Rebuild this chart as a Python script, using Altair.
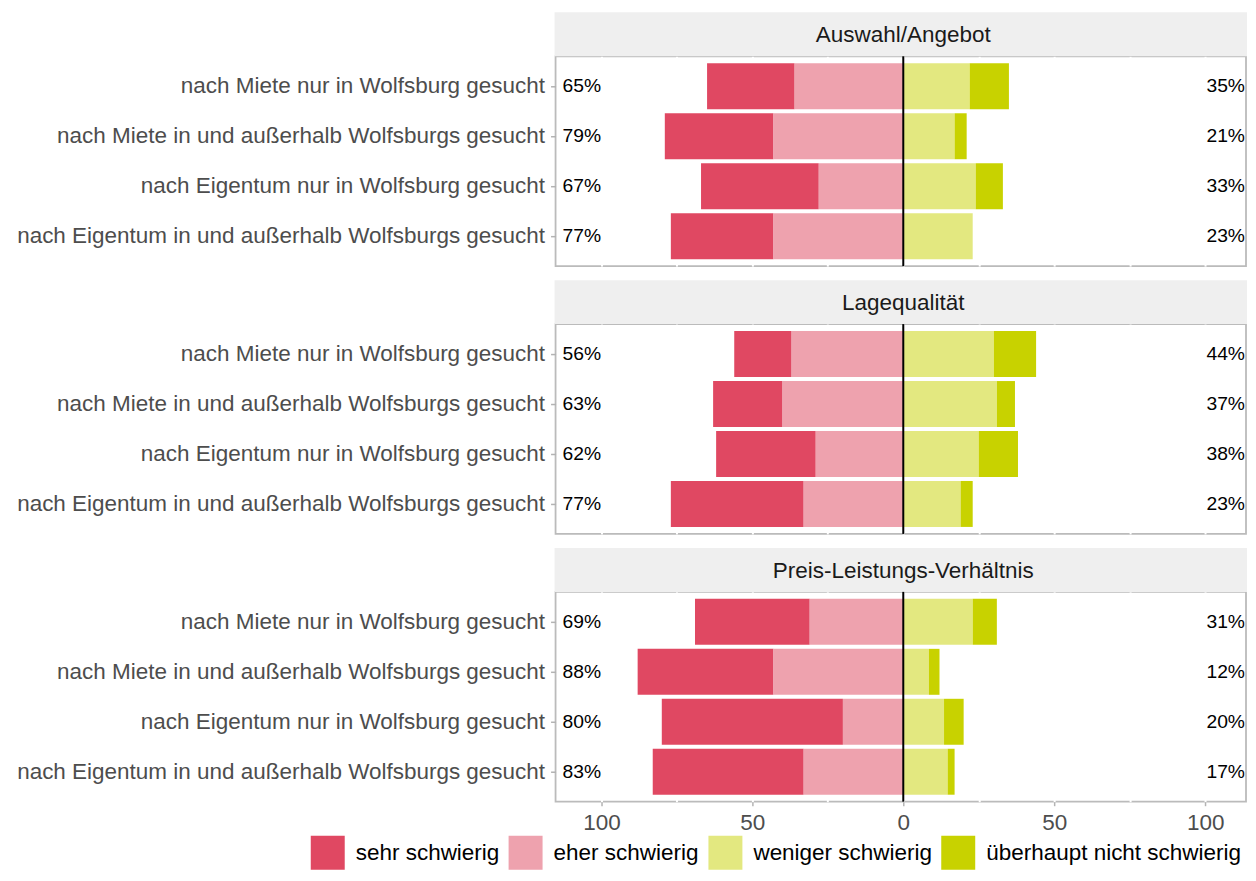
import altair as alt
import pandas as pd

panels = ["Auswahl/Angebot", "Lagequalität", "Preis-Leistungs-Verhältnis"]
categories = [
    "nach Miete nur in Wolfsburg gesucht",
    "nach Miete in und außerhalb Wolfsburgs gesucht",
    "nach Eigentum nur in Wolfsburg gesucht",
    "nach Eigentum in und außerhalb Wolfsburgs gesucht",
]
levels = ["sehr schwierig", "eher schwierig", "weniger schwierig", "überhaupt nicht schwierig"]
colors = ["#E04862", "#EEA2AE", "#E3E880", "#C8D200"]

sehr = [[29, 36, 39, 34], [19, 23, 33, 44], [38, 45, 60, 50]]
eher = [[36, 43, 28, 43], [37, 40, 29, 33], [31, 43, 20, 33]]
weniger = [[22, 17, 24, 23], [30, 31, 25, 19], [23, 8.5, 13.5, 14.7]]
ueberhaupt = [[13, 4, 9, 0], [14, 6, 13, 4], [8, 3.5, 6.5, 2.3]]
neg_labels = [[65, 79, 67, 77], [56, 63, 62, 77], [69, 88, 80, 83]]
pos_labels = [[35, 21, 33, 23], [44, 37, 38, 23], [31, 12, 20, 17]]
grid_values = [-100, -75, -50, -25, 0, 25, 50, 75, 100]

FONT = "Liberation Sans"
W, H, STRIP = 691, 210, 44
FS = 22.5
LEFT = 547
PX_PER_UNIT = 3.021
ZERO_PX = 348
X_DOMAIN = [-ZERO_PX / PX_PER_UNIT, (W - ZERO_PX) / PX_PER_UNIT]

legend = alt.Legend(
    orient="none", legendX=310 - 8 - LEFT, legendY=780, direction="horizontal", title=None,
    symbolType="square", symbolSize=34 * 34, symbolStrokeWidth=0,
    labelFontSize=FS, labelColor="black", labelFont=FONT, labelOffset=11,
    labelLimit=1000, columnPadding=9, padding=0,
)


def panel_chart(i, bottom, first):
    rows = []
    for j, cat in enumerate(categories):
        s, e, w, u = sehr[i][j], eher[i][j], weniger[i][j], ueberhaupt[i][j]
        rows += [
            dict(cat=cat, level=levels[0], x0=-(s + e), x1=-e),
            dict(cat=cat, level=levels[1], x0=-e, x1=0),
            dict(cat=cat, level=levels[2], x0=0, x1=w),
            dict(cat=cat, level=levels[3], x0=w, x1=w + u),
        ]
    df = pd.DataFrame(rows)
    lab = pd.DataFrame({
        "cat": categories,
        "neg": [f"{v}%" for v in neg_labels[i]],
        "pos": [f"{v}%" for v in pos_labels[i]],
    })
    one = pd.DataFrame({"t": [panels[i]]})

    xscale = alt.Scale(domain=X_DOMAIN, nice=False, zero=False)
    yscale = alt.Scale(domain=categories, paddingInner=0.08, paddingOuter=0.14)
    if bottom:
        xaxis = alt.Axis(
            values=grid_values, title=None, grid=True, gridColor="white", gridWidth=2,
            domain=False, tickColor="#B3B3B3", tickSize=4, tickWidth=1.5,
            tickOpacity={"condition": {"test": "datum.value % 50 === 0", "value": 1}, "value": 0},
            labelExpr="datum.value % 50 === 0 ? format(abs(datum.value), 'd') : ''",
            labelFontSize=FS, labelColor="#4D4D4D", labelPadding=6, labelFont=FONT,
        )
    else:
        xaxis = alt.Axis(
            values=grid_values, title=None, grid=True, gridColor="white", gridWidth=2,
            domain=False, ticks=False, labels=False,
        )
    yaxis = alt.Axis(
        title=None, domain=False, ticks=True, tickColor="#B3B3B3", tickSize=5, tickWidth=1.5,
        labelPadding=6, labelFontSize=FS, labelColor="#4D4D4D", labelLimit=1000,
        labelFont=FONT, grid=False,
    )
    Y = alt.Y("cat:N", scale=yscale, axis=yaxis, sort=categories)

    strip = alt.Chart(one).mark_rect(fill="#EFEFEF").encode(
        x=alt.value(-1), x2=alt.value(W + 1), y=alt.value(-STRIP), y2=alt.value(0)
    )
    strip_text = alt.Chart(one).mark_text(
        fontSize=FS, color="#1A1A1A", align="center", baseline="middle", font=FONT
    ).encode(x=alt.value(ZERO_PX), y=alt.value(-STRIP / 2 + 1), text="t:N")

    bars = alt.Chart(df).mark_bar().encode(
        x=alt.X("x0:Q", scale=xscale, axis=xaxis),
        x2="x1:Q",
        y=Y,
        color=alt.Color("level:N", scale=alt.Scale(domain=levels, range=colors), legend=legend),
    )
    zero = alt.Chart(one).mark_rule(color="black", strokeWidth=2).encode(
        x=alt.datum(0), y=alt.value(0), y2=alt.value(H)
    )
    left = alt.Chart(lab).mark_text(
        align="left", baseline="middle", fontSize=19.3, color="black", font=FONT
    ).encode(x=alt.value(7), y=Y, text="neg:N")
    right = alt.Chart(lab).mark_text(
        align="right", baseline="middle", fontSize=19.3, color="black", font=FONT
    ).encode(x=alt.value(W - 1), y=Y, text="pos:N")

    layers = [strip, strip_text, bars, zero, left, right]
    if first:
        marker = alt.Chart(one).mark_rect(opacity=0).encode(
            x=alt.value(-LEFT), x2=alt.value(-LEFT + 1), y=alt.value(0), y2=alt.value(1)
        )
        layers.append(marker)
    return alt.layer(*layers).properties(width=W, height=H)


chart = alt.vconcat(
    panel_chart(0, False, True),
    panel_chart(1, False, False),
    panel_chart(2, True, False),
    spacing=58,
    bounds="flush",
).resolve_scale(color="shared").properties(
    padding={"left": 0, "top": 3, "right": 0, "bottom": 0},
    background="white",
).configure(font=FONT).configure_view(stroke="#BBBBBB", strokeWidth=1.8)

chart.save("out.html", embed_options={"renderer": "svg", "actions": False})
